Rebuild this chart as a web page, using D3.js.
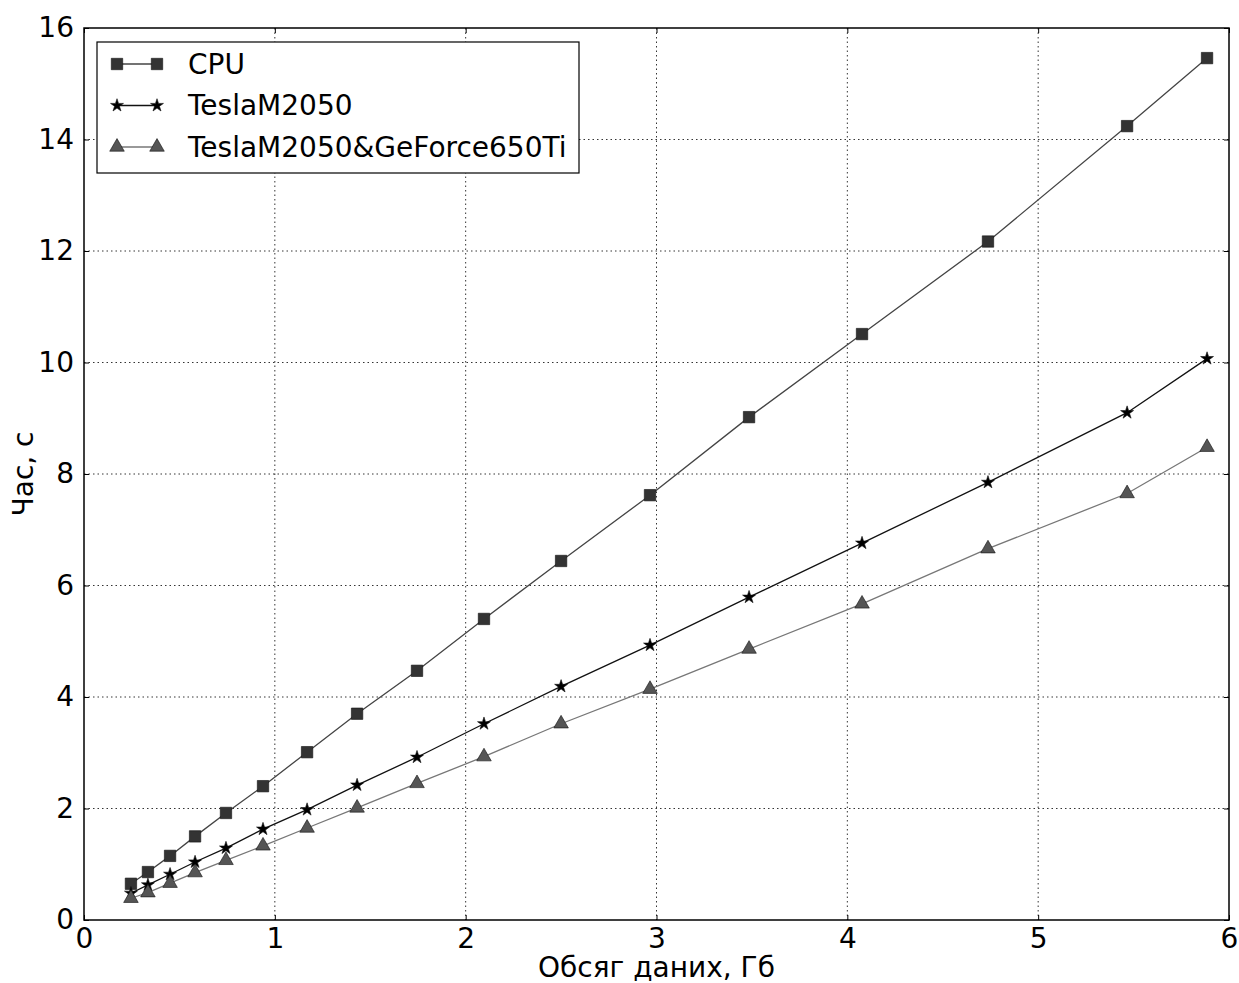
<!DOCTYPE html>
<html>
<head>
<meta charset="utf-8">
<script src="https://d3js.org/d3.v7.min.js"></script>
<style>
  body { margin: 0; background: #fff; }
  svg { font-family: "DejaVu Sans", sans-serif; }
  .grid line { stroke: #000; stroke-dasharray: 1.5,3; stroke-width: 0.8; }
</style>
</head>
<body>
<svg width="1239" height="983"></svg>
<script>
var svg = d3.select("svg");

// data
var sizes = [0.246, 0.335, 0.451, 0.582, 0.744, 0.938, 1.169, 1.431, 1.745, 2.096, 2.500, 2.966, 3.485, 4.077, 4.737, 5.466, 5.885];
var cpu = [0.65, 0.86, 1.15, 1.50, 1.92, 2.40, 3.01, 3.70, 4.47, 5.40, 6.44, 7.62, 9.02, 10.51, 12.17, 14.24, 15.46];
var tesla = [0.48, 0.63, 0.82, 1.04, 1.29, 1.63, 1.98, 2.42, 2.92, 3.52, 4.19, 4.93, 5.79, 6.76, 7.85, 9.10, 10.07];
var teslaGeforce = [0.39, 0.49, 0.66, 0.85, 1.07, 1.33, 1.65, 2.01, 2.45, 2.93, 3.52, 4.14, 4.86, 5.67, 6.66, 7.65, 8.48];
var xTicks = [0, 1, 2, 3, 4, 5, 6];
var yTicks = [0, 2, 4, 6, 8, 10, 12, 14, 16];

var plotLeft = 84, plotRight = 1229, plotTop = 28, plotBottom = 920;

var x = d3.scaleLinear().domain([0, 6]).range([plotLeft, plotRight]);
var y = d3.scaleLinear().domain([0, 16]).range([plotBottom, plotTop]);

var series = [
    { name: "CPU", values: cpu, line: "#444", fill: "#333", marker: "square" },
    { name: "TeslaM2050", values: tesla, line: "#111", fill: "#000", marker: "star" },
    { name: "TeslaM2050&GeForce650Ti", values: teslaGeforce, line: "#777", fill: "#555", marker: "triangle" }
];

// grid
var grid = svg.append("g").attr("class", "grid");
grid.selectAll(".gx").data(xTicks.slice(1, -1)).enter().append("line")
    .attr("x1", function (d) { return x(d); }).attr("x2", function (d) { return x(d); })
    .attr("y1", plotTop).attr("y2", plotBottom);
grid.selectAll(".gy").data(yTicks.slice(1, -1)).enter().append("line")
    .attr("y1", function (d) { return y(d); }).attr("y2", function (d) { return y(d); })
    .attr("x1", plotLeft).attr("x2", plotRight);

// axes (ticks pointing inwards on all four sides)
var fontSize = 28;
var fmt = d3.format("d");
var xAxis = svg.append("g").attr("transform", "translate(0," + plotBottom + ")")
    .call(d3.axisBottom(x).tickValues(xTicks).tickFormat(fmt).tickSizeInner(-5).tickSizeOuter(0).tickPadding(8));
var xAxisTop = svg.append("g").attr("transform", "translate(0," + plotTop + ")")
    .call(d3.axisTop(x).tickValues(xTicks).tickSizeInner(-5).tickSizeOuter(0).tickFormat(""));
var yAxis = svg.append("g").attr("transform", "translate(" + plotLeft + ",0)")
    .call(d3.axisLeft(y).tickValues(yTicks).tickFormat(fmt).tickSizeInner(-5).tickSizeOuter(0).tickPadding(10));
var yAxisRight = svg.append("g").attr("transform", "translate(" + plotRight + ",0)")
    .call(d3.axisRight(y).tickValues(yTicks).tickSizeInner(-5).tickSizeOuter(0).tickFormat(""));
[xAxis, xAxisTop, yAxis, yAxisRight].forEach(function (a) {
    a.select(".domain").remove();
    a.selectAll("line").attr("stroke", "#000");
    a.selectAll("text").attr("font-size", fontSize).attr("font-family", "DejaVu Sans").attr("fill", "#000");
});

// frame
svg.append("rect")
    .attr("x", plotLeft).attr("y", plotTop)
    .attr("width", plotRight - plotLeft).attr("height", plotBottom - plotTop)
    .attr("fill", "none").attr("stroke", "#000").attr("stroke-width", 1.5);

function markerPath(type) {
    if (type == "square") return d3.symbol(d3.symbolSquare, 130)();
    if (type == "star") return d3.symbol(d3.symbolStar, 52)();
    return d3.symbol(d3.symbolTriangle, 92)();
}

var line = d3.line()
    .x(function (d, i) { return x(sizes[i]); })
    .y(function (d) { return y(d); });

series.forEach(function (s) {
    var g = svg.append("g");
    g.append("path")
        .attr("d", line(s.values))
        .attr("fill", "none")
        .attr("stroke", s.line)
        .attr("stroke-width", 1.3);
    g.selectAll("path.m").data(s.values).enter().append("path")
        .attr("class", "m")
        .attr("d", markerPath(s.marker))
        .attr("transform", function (d, i) { return "translate(" + x(sizes[i]) + "," + y(d) + ")"; })
        .attr("fill", s.fill)
        .attr("stroke", "#111")
        .attr("stroke-width", 0.6);
});

// legend
var legend = svg.append("g");
legend.append("rect")
    .attr("x", 97).attr("y", 42).attr("width", 482).attr("height", 131)
    .attr("fill", "#fff").attr("stroke", "#000").attr("stroke-width", 1.2);
series.forEach(function (s, i) {
    var ly = 64 + i * 41.5;
    legend.append("line")
        .attr("x1", 117).attr("x2", 157).attr("y1", ly).attr("y2", ly)
        .attr("stroke", s.line).attr("stroke-width", 1.3);
    [117, 157].forEach(function (mx) {
        legend.append("path")
            .attr("d", markerPath(s.marker))
            .attr("transform", "translate(" + mx + "," + ly + ")")
            .attr("fill", s.fill).attr("stroke", "#111").attr("stroke-width", 0.6);
    });
    legend.append("text")
        .attr("x", 188).attr("y", ly).attr("dy", "0.35em")
        .attr("font-size", fontSize)
        .text(s.name);
});

// axis labels
svg.append("text")
    .attr("x", (plotLeft + plotRight) / 2).attr("y", 977)
    .attr("text-anchor", "middle")
    .attr("font-size", fontSize)
    .text("Обсяг даних, Гб");
svg.append("text")
    .attr("transform", "translate(33," + (plotTop + plotBottom) / 2 + ") rotate(-90)")
    .attr("text-anchor", "middle")
    .attr("font-size", fontSize)
    .text("Час, с");
</script>
</body>
</html>
